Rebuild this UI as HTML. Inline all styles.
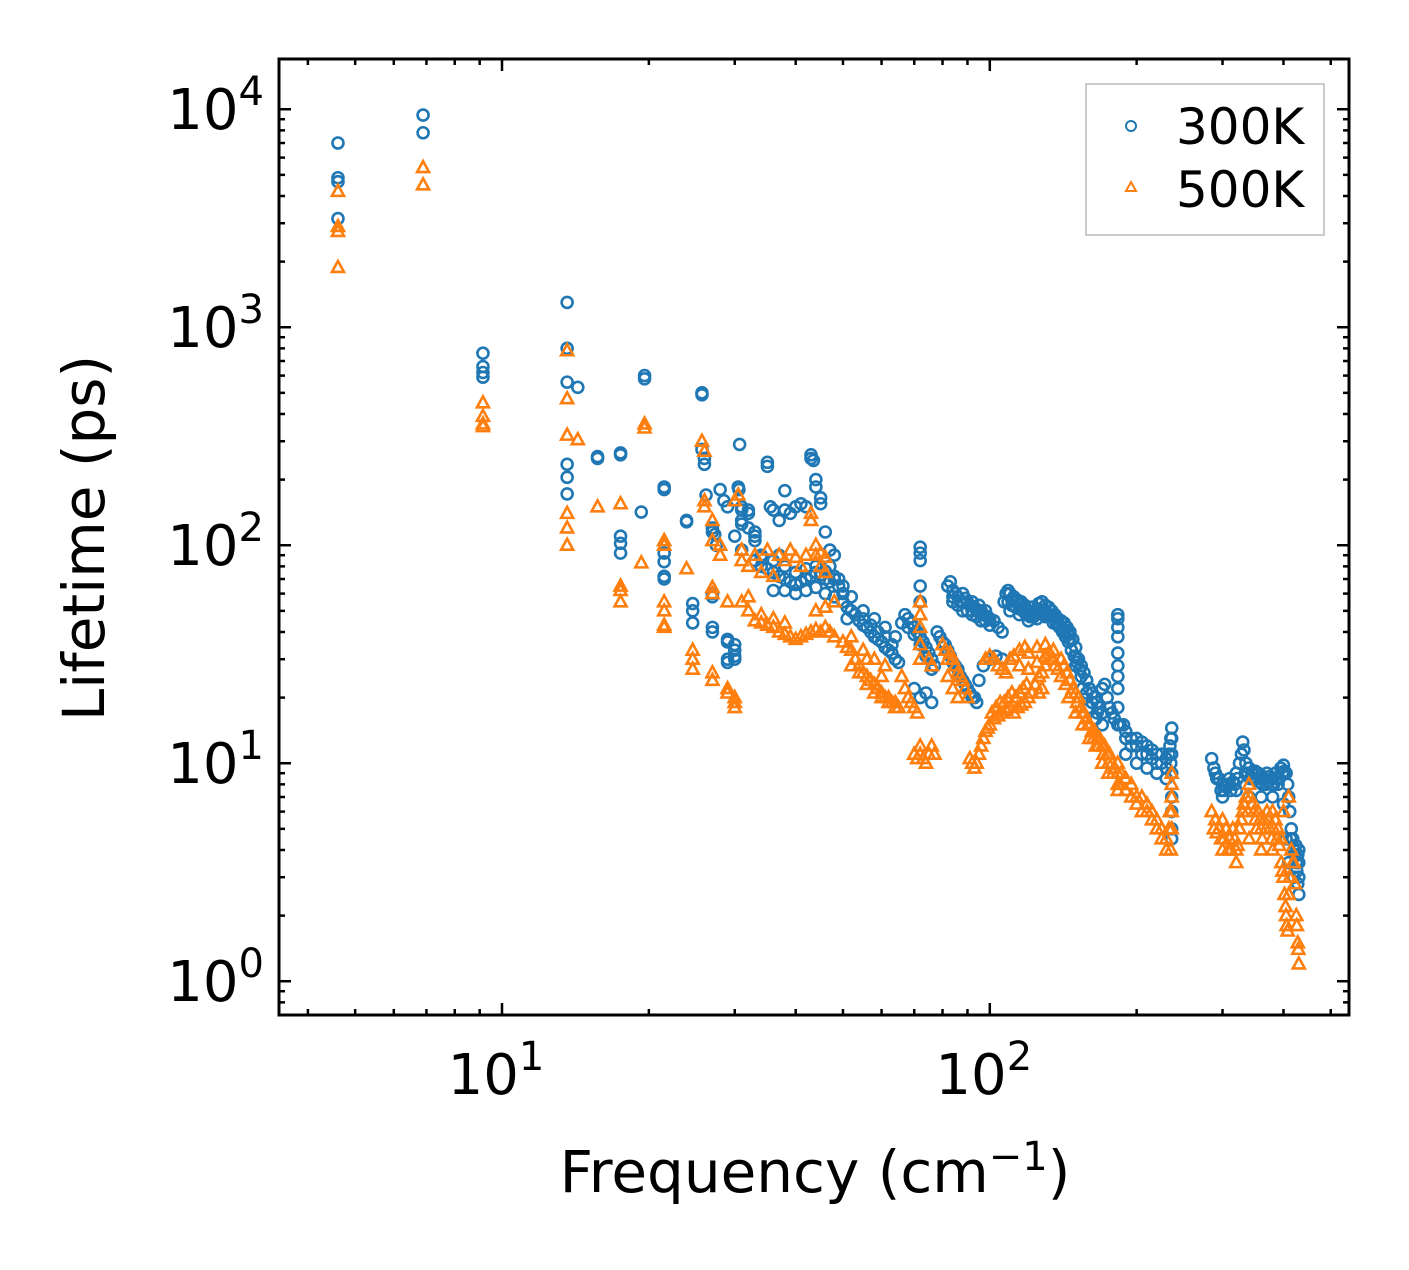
<!DOCTYPE html>
<html><head><meta charset="utf-8"><style>
html,body{margin:0;padding:0;background:#fff;}
svg text{font-family:"DejaVu Sans","Liberation Sans",sans-serif;fill:#000;}
</style></head><body>
<svg id="chart" width="1409" height="1265" viewBox="0 0 1409 1265" xmlns="http://www.w3.org/2000/svg">
<g id="marks300"></g>
<g id="marks500"></g>
<g id="axes"></g>
<rect x="279" y="59" width="1070" height="956" fill="none" stroke="#000" stroke-width="3"/>
<text transform="translate(104,538) rotate(-90)" text-anchor="middle" font-size="58">Lifetime (ps)</text>
<text x="815" y="1192" text-anchor="middle" font-size="58">Frequency (cm<tspan dy="-22" font-size="40">−1</tspan><tspan dy="22">)</tspan></text>
<g>
<rect x="1086" y="84" width="238" height="151" fill="#fff" stroke="#bbb" stroke-width="1.5"/>
<circle cx="1131" cy="126" r="5" fill="none" stroke="#1f77b4" stroke-width="2"/>
<text x="1176" y="144" font-size="50">300K</text>
<polygon points="1131,182 1136,191 1126,191" fill="none" stroke="#ff7f0e" stroke-width="2"/>
<text x="1176" y="207" font-size="50">500K</text>
</g>
</svg>
<script>
const xTickExps=[1,2];
const yTickExps=[0,1,2,3,4];
const xDomain=[3.49,545];
const yDomain=[0.7,17000];
const data300=[4.61,7000,4.61,4850,4.61,4650,4.61,3150,6.89,9400,6.89,7800,9.14,760,9.14,660,9.14,620,9.14,590,
13.6,1300,13.6,800,13.6,560,14.3,530,13.6,235,13.6,205,13.6,172,15.7,255,15.7,250,17.5,265,17.5,260,17.5,110,17.5,102,17.5,92,
19.6,600,19.6,580,19.3,142,21.5,185,21.5,180,21.5,92,21.5,84,21.5,72,21.5,70,23.9,130,23.9,128,24.6,54,24.6,50,24.6,44,
25.7,500,25.7,490,25.7,275,26,250,26,235,26.2,170,27,120,27,115,27.3,112,27.5,100,27,60,27,58,27,42,27,40,28,180,28.5,160,29,150,
29,37,29,36,29,30,29,29,30,35,30,33,30,31,30,30,30.5,185,30.7,290,30.6,180,31,150,31,145,31,130,31,125,30,110,31,95,32,145,32,140,
32,120,33,105,33,115,33,110,34,90,35,240,35,230,35.5,150,36,145,37,130,37,90,38,178,38,145,39,140,40,150,41,155,42,150,43,260,43,250,
43.5,245,44,200,44,185,45,165,45,155,46,115,47,95,48,90,47,80,48,70,49,65,
33,85,34,80,35,78,36,75,37,72,38,70,39,68,40,66,41,68,42,70,43,72,44,75,45,73,46,70,47,68,48,72,49,70,50,65,
34,88,36,85,38,80,40,75,42,78,44,80,46,76,36,62,38,62,40,60,42,62,44,64,46,60,48,58,50,55,
51,52,52,50,53,48,54,45,55,43,56,42,57,40,58,38,59,37,60,36,61,34,62,33,63,32,64,30,65,29,52,58,55,50,58,46,61,42,64,38,50,60,51,46,
67,48,68,46,69,44,70,42,71,40,72,38,73,36,74,34,75,32,76,30,77,28,78,40,79,38,80,36,70,22,72,20,74,21,76,19,
72,98,72,92,72,85,72,65,72,55,
82,65,83,68,84,62,85,60,86,58,87,55,88,60,89,57,90,55,91,53,92,55,93,52,94,50,95,53,96,50,97,48,98,50,99,47,100,46,84,55,88,50,92,48,96,45,
81,35,82,33,83,31,84,29,85,28,86,27,87,25,88,24,89,23,90,22,91,21,92,20,93,20,94,19,95,24,97,28,100,30,103,31,106,30,
102,45,104,42,106,40,108,60,109,62,110,60,112,58,114,56,116,55,118,53,120,50,122,52,124,50,126,54,128,55,130,53,132,52,134,50,136,48,138,46,140,45,
110,50,115,48,120,45,125,46,130,47,135,44,
142,44,144,42,146,40,148,37,150,34,152,30,154,28,156,26,158,24,160,22,162,21,164,20,166,19,168,18,170,22,172,23,174,20,176,18,178,17,180,16,
145,36,150,28,155,22,160,18,165,16,170,15,
183,48,183,46,183,42,183,38,183,32,183,28,183,25,183,22,183,18,183,15,185,15,
188,15,190,14,195,13,200,13,205,12.5,210,12,215,11.5,220,11,225,11,230,10.5,235,10,190,11,200,10,210,9.5,220,9,230,8.5,
236,14.5,236,13,236,11,236,9,236,7,236,6,236,5,236,4.5,
285,10.5,290,9,295,8.5,300,8,305,7.8,310,8.5,315,8.2,320,9,325,10,330,12.5,332,11.5,335,10,340,9.5,345,9,350,9.2,355,9,360,8.8,365,8.5,
370,9,375,8.7,380,8.5,385,9,390,8,395,9.5,400,9.8,405,9,410,7,415,5,420,4,425,3.5,430,3,
300,7,320,7.5,340,7,360,7,380,7,400,6.5,405,4.5,410,3.5,420,3,430,2.5,430,4,428,3.8];
const dense300=[111,56,113,52,115,54,117,50,119,48,121,47,123,47,127,50,129,49,131,48,133,47,135,47,137,44,139,42,141,40,143,38,145,39,147,33,149,31,151,29,153,27,
84,58,86,53,88,55,90,50,92,50,94,47,96,48,98,45,100,43,
107,55,109,55,111,53,113,55,115,51,118,49,122,48,126,51,130,50,134,47,138,43,142,41,146,37,150,31,154,25,158,21,162,19,166,17,170,17,
190,13,195,12,200,12,205,11,210,11,215,10.5,220,10,225,10,230,9.5,233,11,234,12,235,13,
288,9.5,292,8.5,298,7.5,302,7.5,308,8,312,7.5,318,8,322,8.5,328,11,334,9,338,9,342,8.5,348,8.5,352,8.5,358,8.2,362,8,368,8,372,8.2,378,8,382,8,388,8.5,392,8.5,398,9,
402,9.2,408,8,412,6,414,4.5,418,4.5,422,3.8,426,3.2,428,2.8,424,4.2,430,3.5,
55,46,57,43,59,40,61,38,63,35,66,44,68,42,70,39,72,35,74,31,76,27];
const data500=[4.61,4200,4.61,2900,4.61,2750,4.61,1880,6.89,5400,6.89,4500,9.14,450,9.14,390,9.14,360,9.14,350,
13.6,780,13.6,470,13.6,320,14.3,305,13.6,140,13.6,120,13.6,100,15.7,150,17.5,155,17.5,65,17.5,62,17.5,55,19.6,360,19.6,345,19.3,83,
21.5,105,21.5,100,21.5,55,21.5,50,21.5,43,21.5,42,23.9,78,24.6,33,24.6,30,24.6,27,25.7,300,26,270,26,160,26,150,27,130,27,105,
27,64,27,60,27,26,27,24,28,100,28,90,29,55,29,22,29,21,30,20,30,19,30,18,30.5,170,30,160,31,95,
31,85,32,80,33,90,34,75,35,95,36,72,37,90,38,85,39,95,40,88,41,80,42,90,43,140,43,130,44,100,45,92,46,88,44,90,45,80,46,75,
33,45,34,44,35,43,36,42,37,40,38,39,39,38,40,37,41,38,42,39,43,40,44,41,45,40,46,42,47,40,48,38,32,50,34,48,36,46,38,44,44,50,46,52,48,55,31,55,32,58,
50,36,51,34,52,33,53,30,54,28,55,26,56,25,57,24,58,23,59,22,60,21,61,20,62,20,63,19,64,19,65,18,52,38,55,33,58,30,61,28,
66,25,67,22,68,20,69,19,70,18,71,17,72,11,72,12,73,10.5,74,10,75,11,76,12,77,11,70,11,71,10.5,72,55,72,48,72,42,72,35,72,30,75,30,76,28,
80,35,81,33,82,30,83,32,84,30,85,28,86,26,87,25,88,24,89,22,90,20,82,25,84,22,86,20,
91,10.5,92,10,93,9.5,94,10,95,11,96,12,97,13,98,14,99,14.5,100,15,102,16,104,16.5,106,17,108,17.5,110,18,112,17,114,18,116,18.5,118,19,
120,20,122,21,124,23,126,25,128,26,130,28,
98,30,100,31,102,30,104,28,106,27,108,26,110,30,112,31,115,33,118,34,120,32,125,34,130,35,135,33,140,30,
142,28,144,26,146,24,148,22,150,21,152,20,154,18,156,17,158,16,160,15,162,14,164,14,166,13,168,13,170,12,172,12,174,11,176,11,178,10,180,9.5,
145,20,150,17,155,15,160,13,165,12,170,10,175,9,
183,10,183,9,183,8,183,7.5,185,8,190,7.5,195,8,200,7,205,7,210,6.5,215,6,220,5.5,225,5,230,4.5,235,4,236,9,236,8,236,7,236,6,236,5,
285,6,290,5.5,295,5,300,5.5,305,5,310,4.5,315,5,320,4,325,5,330,6,335,7,340,8,345,6.5,350,5.5,355,6,360,5,365,5.5,370,6,375,5,380,6,
385,5.5,390,5,395,4.5,400,3,402,2.5,405,2,408,1.7,410,2.5,415,4,420,3.5,425,2,428,1.5,430,1.2,
300,4,320,3.5,340,4.5,360,4,380,4,400,6,410,7];
const dense500=[132,32,134,30,136,28,138,27,140,25,143,23,147,21,151,19,155,17,159,15,163,13,167,12,171,11,175,10,179,9,
115,28,120,27,125,29,130,31,135,30,128,22,126,21,
101,17,103,18,105,19,107,19,109,20,111,21,113,20,115,21,117,22,119,23,
186,9,190,8.5,195,7,200,6.5,205,6,210,6,215,5.5,220,5,225,4.5,230,4,233,5,234,6,
288,5,292,4.8,298,4.5,302,4.5,308,4,312,4,318,4.5,322,4.2,328,5.5,332,6.5,338,6,342,7,348,6,352,5,358,5.5,362,4.5,368,5,372,5.5,378,4.5,382,5,388,4.5,392,4.2,
396,3.5,398,3.2,404,2.2,406,1.8,412,3,418,3.5,422,2.8,426,1.8,429,1.4,
52,28,54,26,56,23,58,21,60,20,62,19,64,18,56,30,60,25];

const NS='http://www.w3.org/2000/svg';
const X0=279,X1=1349,Y0=59,Y1=1015;
function xs(v){return X0+(Math.log10(v)-Math.log10(xDomain[0]))/(Math.log10(xDomain[1])-Math.log10(xDomain[0]))*(X1-X0);}
function ys(v){return Y1-(Math.log10(v)-Math.log10(yDomain[0]))/(Math.log10(yDomain[1])-Math.log10(yDomain[0]))*(Y1-Y0);}
function mk(tag,attrs,parent){const e=document.createElementNS(NS,tag);for(const k in attrs)e.setAttribute(k,attrs[k]);parent.appendChild(e);return e;}
const g3=document.getElementById('marks300'),g5=document.getElementById('marks500'),ax=document.getElementById('axes');
[data300,dense300].forEach(arr=>{for(let i=0;i<arr.length;i+=2){
 const c=mk('circle',{cx:xs(arr[i]),cy:ys(arr[i+1]),r:5.5,fill:'none',stroke:'#1f77b4','stroke-width':2.6},g3);
 
 
}});
[data500,dense500].forEach(arr=>{for(let i=0;i<arr.length;i+=2){
 const x=xs(arr[i]),y=ys(arr[i+1]);
 const p=mk('polygon',{points:`${x},${y-6.5} ${x+6},${y+4.5} ${x-6},${y+4.5}`,fill:'none',stroke:'#ff7f0e','stroke-width':2.6},g5);
 
 
}});
for(let e=0;e<=2;e++){for(let m=1;m<10;m++){const v=m*Math.pow(10,e);if(v<xDomain[0]||v>xDomain[1])continue;const x=xs(v),L=m===1?12:6;
 mk('line',{x1:x,x2:x,y1:Y1,y2:Y1-L,stroke:'#000','stroke-width':2.5},ax);mk('line',{x1:x,x2:x,y1:Y0,y2:Y0+L,stroke:'#000','stroke-width':2.5},ax);}}
for(let e=-1;e<=4;e++){for(let m=1;m<10;m++){const v=m*Math.pow(10,e);if(v<yDomain[0]||v>yDomain[1])continue;const y=ys(v),L=m===1?12:6;
 mk('line',{x1:X0,x2:X0+L,y1:y,y2:y,stroke:'#000','stroke-width':2.5},ax);mk('line',{x1:X1,x2:X1-L,y1:y,y2:y,stroke:'#000','stroke-width':2.5},ax);}}
xTickExps.forEach(e=>{const t=mk('text',{x:xs(Math.pow(10,e))-6,y:1094,'text-anchor':'middle','font-size':56},ax);
 t.innerHTML='10<tspan dy="-24" font-size="40">'+e+'</tspan>';
 
 });
yTickExps.forEach(e=>{const t=mk('text',{x:264,y:ys(Math.pow(10,e))+20,'text-anchor':'end','font-size':56},ax);
 t.innerHTML='10<tspan dy="-24" font-size="40">'+e+'</tspan>';
 
 });
</script>
</body></html>
